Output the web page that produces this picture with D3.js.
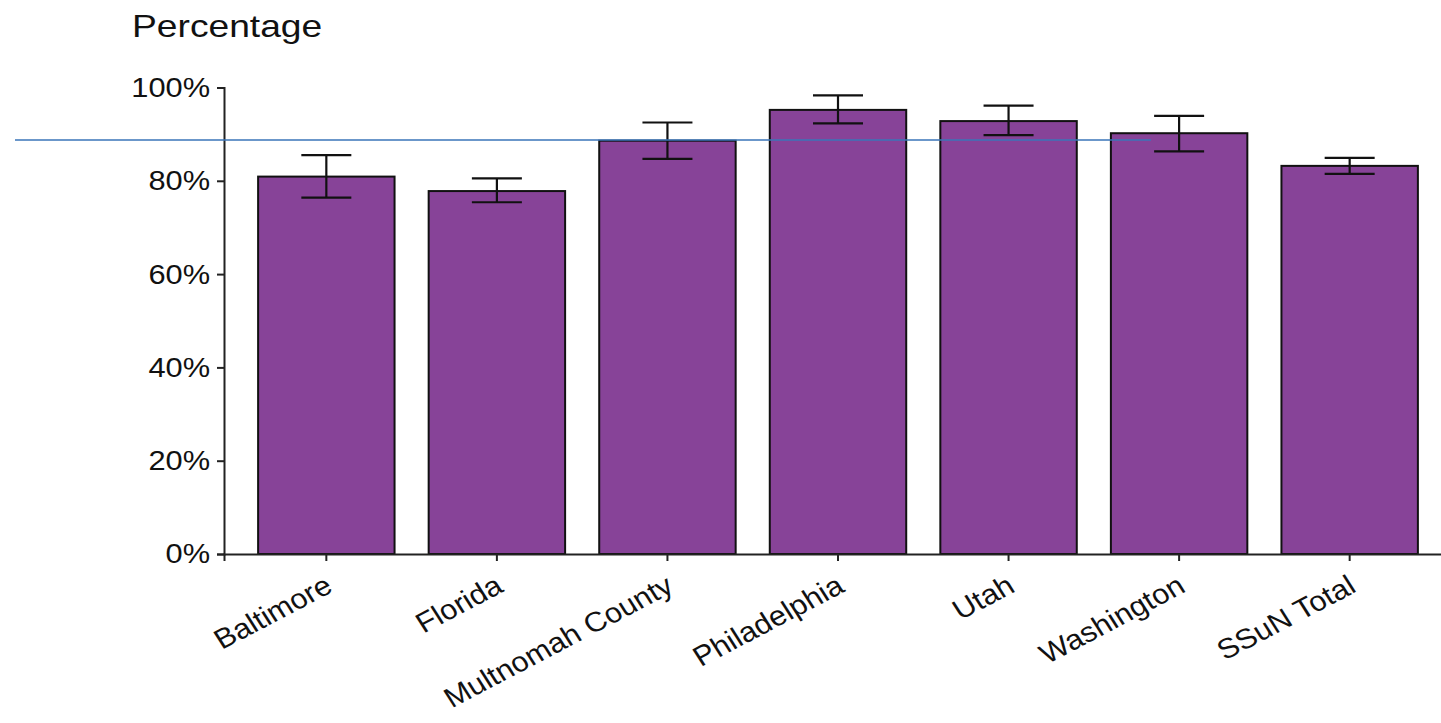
<!DOCTYPE html>
<html><head><meta charset="utf-8">
<script src="https://cdn.jsdelivr.net/npm/d3@7"></script>
<style>html,body{margin:0;padding:0;background:#fff;}svg{display:block;font-family:"Liberation Sans",Arial,sans-serif;}</style>
</head><body>
<script>
const categories = ["Baltimore","Florida","Multnomah County","Philadelphia","Utah","Washington","SSuN Total"];
const values = [80.9, 77.8, 88.6, 95.2, 92.8, 90.2, 83.2];
const errLow = [76.4, 75.4, 84.7, 92.3, 89.8, 86.3, 81.5];
const errHigh = [85.5, 80.5, 92.5, 98.3, 96.1, 93.9, 84.9];
const yTicks = [0, 20, 40, 60, 80, 100];
const refValue = 88.75;
const yTitle = "Percentage";

const W = 1441, H = 723;
const svg = d3.select("body").append("svg").attr("width", W).attr("height", H);

const x = d3.scaleBand().domain(categories).range([224, 1452]).paddingInner(0.2).paddingOuter(0.2);
const y = d3.scaleLinear().domain([0, 100]).range([554, 87.5]);

// bars
svg.append("g").selectAll("rect").data(categories).join("rect")
  .attr("x", d => x(d)).attr("width", x.bandwidth())
  .attr("y", (d,i) => y(values[i])).attr("height", (d,i) => y(0) - y(values[i]))
  .attr("fill", "#874398").attr("stroke", "#111").attr("stroke-width", 2);

// error bars
const eb = svg.append("g").attr("stroke", "#111").attr("stroke-width", 2.2).attr("fill", "none");
categories.forEach((c,i) => {
  const cx = x(c) + x.bandwidth()/2, hw = 25;
  eb.append("line").attr("x1", cx).attr("x2", cx).attr("y1", y(errLow[i])).attr("y2", y(errHigh[i]));
  eb.append("line").attr("x1", cx-hw).attr("x2", cx+hw).attr("y1", y(errHigh[i])).attr("y2", y(errHigh[i]));
  eb.append("line").attr("x1", cx-hw).attr("x2", cx+hw).attr("y1", y(errLow[i])).attr("y2", y(errLow[i]));
});

// y axis
const ya = svg.append("g").attr("transform", "translate(224,0)")
  .call(d3.axisLeft(y).tickValues(yTicks).tickFormat(d => d + "%").tickSizeOuter(0).tickSize(7).tickPadding(7));
ya.select(".domain").attr("stroke", "#222").attr("stroke-width", 2);
ya.selectAll(".tick line").attr("stroke", "#222").attr("stroke-width", 2);
ya.selectAll(".tick text").attr("font-size", 28).attr("fill", "#111")
  .attr("font-family", "Liberation Sans, Arial, sans-serif")
  .attr("transform", "translate(-14,0) scale(1.1,1) translate(14,0)");

// x axis
const xa = svg.append("g").attr("transform", "translate(0,554)")
  .call(d3.axisBottom(x).tickSizeOuter(0).tickSize(7).tickPadding(6));
xa.select(".domain").attr("stroke", "#222").attr("stroke-width", 2);
xa.selectAll(".tick line").attr("stroke", "#222").attr("stroke-width", 2);
xa.selectAll(".tick text").attr("font-size", 28).attr("fill", "#111")
  .attr("font-family", "Liberation Sans, Arial, sans-serif")
  .attr("text-anchor", "end").attr("dy", null).attr("y", 0).attr("x", 0)
  .attr("transform", "translate(8,37) scale(1.1,1) rotate(-30)");

// title
svg.append("text").attr("x", 0).attr("y", 0).attr("font-size", 31).attr("fill", "#111")
  .attr("transform", "translate(132,37) scale(1.2,1)").text(yTitle);

// reference line
svg.append("line").attr("x1", 15).attr("x2", 1151).attr("y1", y(refValue)).attr("y2", y(refValue))
  .attr("stroke", "#3a74b9").attr("stroke-width", 1.6);
</script>
</body></html>
